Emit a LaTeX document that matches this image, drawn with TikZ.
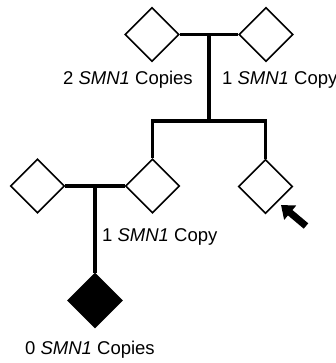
\documentclass[tikz,border=0pt]{standalone}
\usepackage{fontspec}
\setmainfont{Liberation Sans}
\usetikzlibrary{shapes.geometric,arrows.meta}
\tikzset{
  person/.style={diamond,draw=black,line width=1.6pt,fill=white,minimum width=54pt,minimum height=54pt,inner sep=0pt,aspect=1},
  affected/.style={person,fill=black},
  rel/.style={line width=3.3pt,line cap=butt},
  lbl/.style={font=\fontsize{18.5}{21}\selectfont,inner sep=0pt,anchor=base west},
  proband/.style={line width=7pt,-{Triangle[length=12pt,width=18pt]}}
}
\begin{document}
\begin{tikzpicture}[x=1pt,y=-1pt]
\useasboundingbox (0,0) rectangle (336,363);
% generation I
\node[person] (f1) at (152,34.5) {};
\node[person] (m1) at (266,34.5) {};
% generation II
\node[person] (a2) at (37.5,186) {};
\node[person] (b2) at (152.5,186) {};
\node[person] (c2) at (265.5,186.5) {};
% generation III
\node[affected] (d3) at (95,300.5) {};
% couple I
\draw[rel] (f1.east) -- (m1.west) coordinate[pos=0.5] (c1);
\coordinate (s1) at (c1 |- 0,121);
\draw[rel] (c1) -- (s1);
\draw[rel] (b2.north) |- (s1) -| (c2.north);
% couple II
\draw[rel] (a2.east) -- (b2.west) coordinate[pos=0.5] (cc2);
\draw[rel] (cc2 -| d3.north) -- (d3.north);
% proband arrow
\coordinate (pt) at (306,226);
\coordinate (ph) at (281,205);
\draw[proband] (pt) -- (ph);
% labels
\node[lbl] (l1) at (63,85) {2 \textit{SMN1} Copies};
\node[lbl] (l2) at (222,85) {1 \textit{SMN1} Copy};
\node[lbl] (l3) at (102,241) {1 \textit{SMN1} Copy};
\node[lbl] (l4) at (25,354) {0 \textit{SMN1} Copies};
\end{tikzpicture}
\end{document}
